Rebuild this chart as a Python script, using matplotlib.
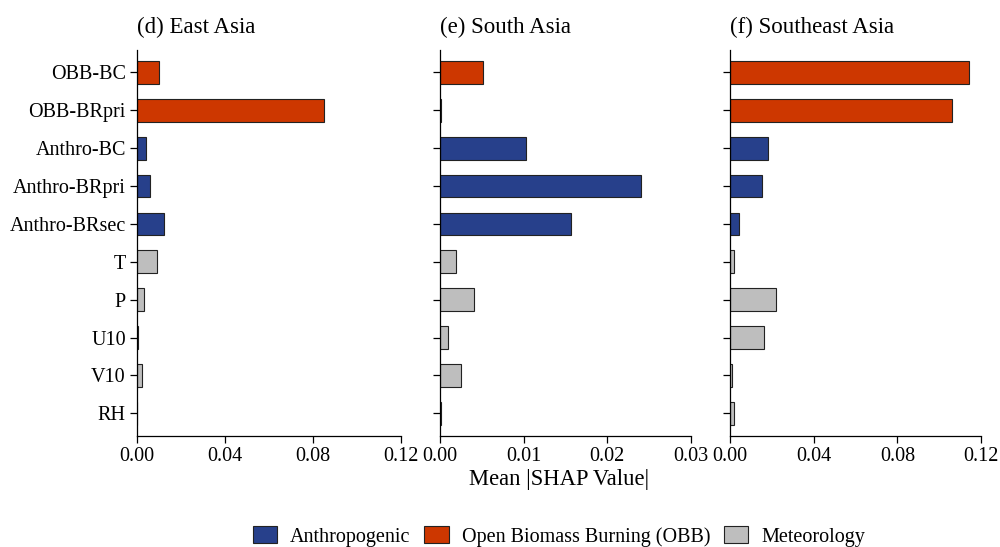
import numpy as np
import matplotlib
matplotlib.use("Agg")
import matplotlib.pyplot as plt
from matplotlib.patches import Patch

plt.rcParams['font.family'] = ['Liberation Serif', 'DejaVu Serif']

features = ['OBB-BC', 'OBB-BRpri', 'Anthro-BC', 'Anthro-BRpri', 'Anthro-BRsec',
            'T', 'P', 'U10', 'V10', 'RH']
groups = ['OBB', 'OBB', 'Anthro', 'Anthro', 'Anthro',
          'Met', 'Met', 'Met', 'Met', 'Met']

east_asia = [0.0101, 0.0851, 0.0041, 0.0058, 0.0124, 0.0089, 0.0033, 0.0005, 0.0024, 0.0002]
south_asia = [0.0051, 0.0001, 0.0103, 0.0240, 0.0156, 0.0019, 0.0041, 0.0009, 0.0025, 0.0001]
southeast_asia = [0.1143, 0.1059, 0.0181, 0.0153, 0.0041, 0.0019, 0.0218, 0.0164, 0.0011, 0.0019]

titles = ['(d) East Asia', '(e) South Asia', '(f) Southeast Asia']
xmax = [0.12, 0.03, 0.12]
xticks = [[0.00, 0.04, 0.08, 0.12], [0.00, 0.01, 0.02, 0.03], [0.00, 0.04, 0.08, 0.12]]

colors = {'Anthro': '#27408B', 'OBB': '#CD3700', 'Met': '#BEBEBE'}
legend_names = {'Anthro': 'Anthropogenic', 'OBB': 'Open Biomass Burning (OBB)',
                'Met': 'Meteorology'}

fig = plt.figure(figsize=(10, 5.47), dpi=100)
lefts = [0.137, 0.440, 0.730]
widths = [0.264, 0.251, 0.251]
bottom, height = 0.203, 0.706

y = np.arange(len(features))
for i, vals in enumerate([east_asia, south_asia, southeast_asia]):
    ax = fig.add_axes([lefts[i], bottom, widths[i], height])
    ax.barh(y, vals, height=0.6, color=[colors[g] for g in groups],
            edgecolor='#222222', linewidth=0.8)
    ax.set_ylim(9.6, -0.6)
    ax.set_xlim(0, xmax[i])
    ax.set_xticks(xticks[i])
    ax.set_xticklabels(['%.2f' % t for t in xticks[i]])
    ax.set_yticks(y)
    if i == 0:
        ax.set_yticklabels(features)
    else:
        ax.set_yticklabels([])
    for s in ['top', 'right']:
        ax.spines[s].set_visible(False)
    for s in ['left', 'bottom']:
        ax.spines[s].set_linewidth(0.9)
    ax.tick_params(axis='both', labelsize=14.5, length=5, width=0.9, colors='black', pad=3)
    ax.text(0.0, 1.03, titles[i], transform=ax.transAxes, fontsize=16.5,
            ha='left', va='bottom')

fig.text(0.559, 0.124, 'Mean |SHAP Value|', ha='center', va='center', fontsize=16.3)

handles = [Patch(facecolor=colors[k], edgecolor='#222222', linewidth=0.8, label=legend_names[k])
           for k in ['Anthro', 'OBB', 'Met']]
fig.legend(handles=handles, loc='center', bbox_to_anchor=(0.559, 0.019), ncol=3,
           frameon=False, fontsize=14.5, handlelength=1.2, handleheight=0.9,
           columnspacing=0.7, handletextpad=0.65)

fig.savefig('out.png', dpi=100)
